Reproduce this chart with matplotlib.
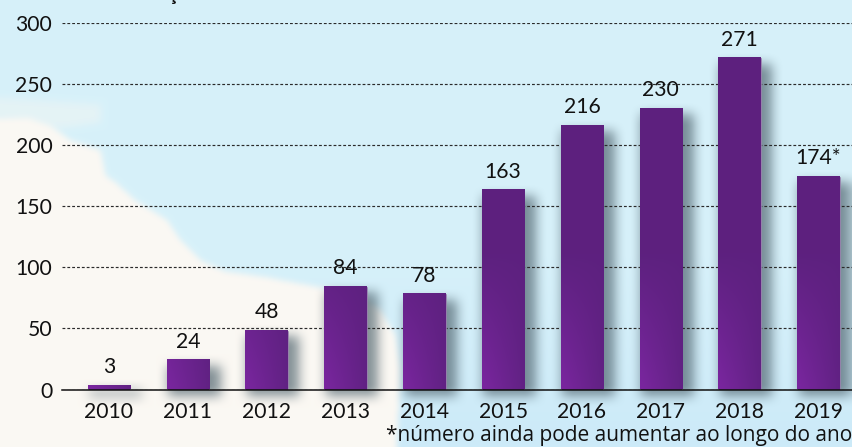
import numpy as np
import matplotlib
matplotlib.use("Agg")
import matplotlib.pyplot as plt
from matplotlib.path import Path

years = ['2010','2011','2012','2013','2014','2015','2016','2017','2018','2019']
values = [3,24,48,84,78,163,216,230,271,174]
labels = ['3','24','48','84','78','163','216','230','271','174*']
yticks = [0,50,100,150,200,250,300]
footnote = '*número ainda pode aumentar ao longo do ano'

W,H = 853,447
plt.rcParams['font.family'] = ['Lato','DejaVu Sans']
fig = plt.figure(figsize=(W/100,H/100),dpi=100)

def blur(a,r):
    k = np.ones(2*r+1)/(2*r+1)
    for _ in range(2):
        p = np.pad(a,((r,r),(0,0)),mode='edge')
        a = np.apply_along_axis(lambda c:np.convolve(c,k,mode='valid'),0,p)
        p = np.pad(a,((0,0),(r,r)),mode='edge')
        a = np.apply_along_axis(lambda c:np.convolve(c,k,mode='valid'),1,p)
    return a

def mask(poly):
    yy,xx = np.mgrid[0:H,0:W]
    pts = np.column_stack([xx.ravel(),yy.ravel()])
    return Path(poly).contains_points(pts).reshape(H,W).astype(float)

bg = fig.add_axes([0,0,1,1],zorder=0)
ax = fig.add_axes([62/W,(H-389.5)/H,(W-62)/W,366.5/H],zorder=1)
ax.patch.set_alpha(0)
ax.set_xlim(-0.596,9.438); ax.set_ylim(0,300)
px = 1/78.83
x = np.arange(len(years))
bw = 42.5*px

coast = [(-5,117),(30,118),(50,125),(70,140),(100,150),(105,175),(115,182),(135,200),
         (167,220),(180,240),(200,260),(225,271),(267,277),(320,287),(350,290),
         (380,310),(395,335),(400,370),(396,452),(-5,452)]
streak = [(-5,97),(40,100),(100,104),(100,122),(60,128),(-5,117)]
ramp = np.clip((np.arange(H)-250)/197,0,1)[:,None,None]
rgb = np.array([0.843,0.945,0.980])*(1-ramp)+np.array([0.800,0.918,0.973])*ramp
rgb = np.broadcast_to(rgb,(H,W,3)).copy()
m1 = blur(mask(streak),4)[...,None]*0.55
rgb = rgb*(1-m1)+np.array([0.94,0.96,0.95])*m1
m2 = blur(mask(coast),3)[...,None]
rgb = rgb*(1-m2)+np.array([0.984,0.973,0.953])*m2

sh = np.zeros((H,W))
fig.canvas.draw()
for xi,v in zip(x,values):
    x0,y0 = ax.transData.transform((xi-bw/2,0))
    x1,y1 = ax.transData.transform((xi+bw/2,v))
    ya,yb = H-y1+6,H-y0+7
    sh[max(int(ya),0):int(yb),int(x0)+2:min(int(x1)+12,W)] = 1
sh = blur(sh,6)*0.68
sh = sh[...,None]
rgb = rgb*(1-sh)+np.array([0.30,0.38,0.42])*sh

bg.imshow(rgb,extent=[0,W,H,0],aspect='auto',interpolation='bilinear')
bg.set_xlim(0,W); bg.set_ylim(H,0); bg.axis('off')

ax.set_yticks(yticks)
ax.yaxis.grid(True,color='#2a2a2a',lw=0.85,dashes=(2.4,1.7),zorder=1)
ax.xaxis.grid(False)
ax.set_axisbelow(True)
for s in ['top','right','left']:
    ax.spines[s].set_visible(False)
ax.spines['bottom'].set_color('#111111'); ax.spines['bottom'].set_linewidth(1.1)
ax.spines['bottom'].set_zorder(6)
ax.tick_params(length=0,labelsize=15.2,labelcolor='#111111')
ax.tick_params(axis='x',pad=9)
ax.tick_params(axis='y',pad=7)
ax.set_xticks(x); ax.set_xticklabels(years)

bars = ax.bar(x,values,width=bw,color='#5f2180',ec='#a595b8',lw=0.5,zorder=3)
c0 = np.array([0.365,0.129,0.498]); c1 = np.array([0.475,0.149,0.620])
for r in bars:
    h = r.get_height()
    yy = np.linspace(0,1,128)[:,None]
    xx = np.linspace(0,1,32)[None,:]
    fade = np.clip(1-yy*h/110,0,1)
    tt = np.clip(fade*(1.05-xx*0.9),0,1)[...,None]
    ax.imshow(c0+(c1-c0)*tt,extent=[r.get_x(),r.get_x()+r.get_width(),0,h],
              origin='lower',aspect='auto',zorder=3.5)
ax.set_xlim(-0.596,9.438); ax.set_ylim(0,300)

for xi,v,l in zip(x,values,labels):
    ax.annotate(l,(xi,v),xytext=(0,6.2),textcoords='offset points',ha='center',va='bottom',
                fontsize=15.2,color='#111111',zorder=7)

fig.text(852/W,(H-436)/H,footnote,ha='right',va='center',fontsize=15.0,color='#111111',
         family=['Open Sans','DejaVu Sans'],zorder=5)
fig.text(172/W,(H-(-6))/H,'ç',ha='center',va='center',fontsize=15,fontweight='bold',color='#111111',zorder=5)

fig.savefig('out.png',dpi=100)
